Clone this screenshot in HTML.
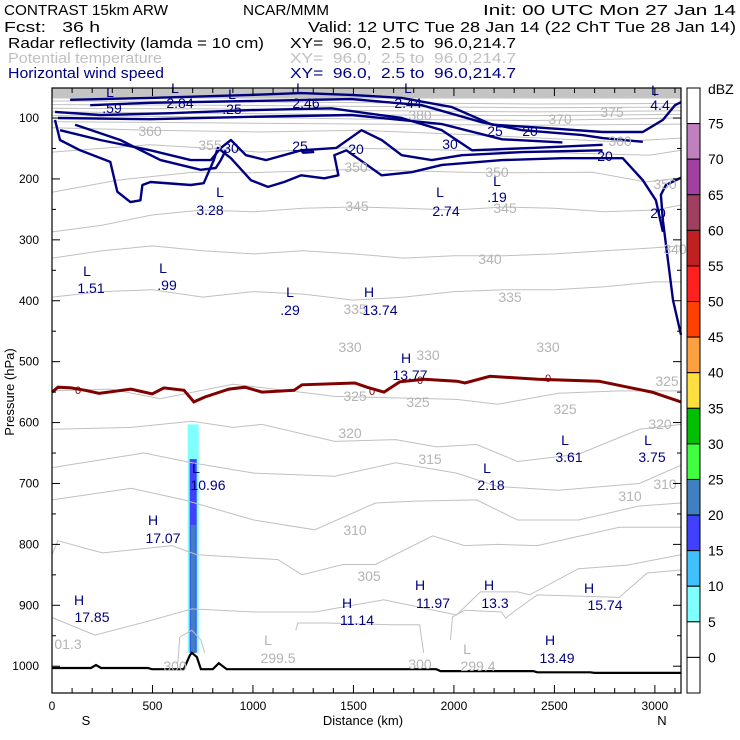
<!DOCTYPE html>
<html><head><meta charset="utf-8"><style>
html,body{margin:0;padding:0;background:#fff;}
svg{display:block;font-family:"Liberation Sans",sans-serif;}
#hdr text{white-space:pre;}
</style></head><body>
<svg id="chart" width="740" height="740" viewBox="0 0 740 740" xmlns="http://www.w3.org/2000/svg" xml:space="preserve">
<g id="hdr" font-size="15">
<text x="4" y="15" textLength="164" lengthAdjust="spacingAndGlyphs">CONTRAST 15km ARW</text>
<text x="243" y="15" textLength="86" lengthAdjust="spacingAndGlyphs">NCAR/MMM</text>
<text x="483" y="15" textLength="253" lengthAdjust="spacingAndGlyphs">Init: 00 UTC Mon 27 Jan 14</text>
<text x="4" y="32" textLength="96" lengthAdjust="spacingAndGlyphs">Fcst:   36 h</text>
<text x="308" y="32" textLength="428" lengthAdjust="spacingAndGlyphs">Valid: 12 UTC Tue 28 Jan 14 (22 ChT Tue 28 Jan 14)</text>
<text x="8" y="48" textLength="256" lengthAdjust="spacingAndGlyphs">Radar reflectivity (lamda = 10 cm)</text>
<text x="290" y="48" textLength="226" lengthAdjust="spacingAndGlyphs">XY=  96.0,  2.5 to  96.0,214.7</text>
<text x="8" y="63" fill="#c0c0c0" textLength="154" lengthAdjust="spacingAndGlyphs">Potential temperature</text>
<text x="290" y="63" fill="#c0c0c0" textLength="226" lengthAdjust="spacingAndGlyphs">XY=  96.0,  2.5 to  96.0,214.7</text>
<text x="8" y="78" fill="#000080" textLength="156" lengthAdjust="spacingAndGlyphs">Horizontal wind speed</text>
<text x="290" y="78" fill="#000080" textLength="226" lengthAdjust="spacingAndGlyphs">XY=  96.0,  2.5 to  96.0,214.7</text>
</g>
<g id="plot"></g>
<g id="labels" font-size="14"></g>
<g id="axes" font-size="12"></g>
<g id="cbar" font-size="14"></g>
<text x="0" y="0" font-size="13" transform="translate(14,392) rotate(-90)" text-anchor="middle">Pressure (hPa)</text>
<text x="363" y="725" font-size="13" text-anchor="middle">Distance (km)</text>
<text x="86" y="725" font-size="13" text-anchor="middle">S</text>
<text x="662" y="725" font-size="13" text-anchor="middle">N</text>
</svg>
<script>
// ---- data (km, hPa) ----
const kmMax = 3130, pTop = 50.7, pBot = 1044;
const yTicks = [100,200,300,400,500,600,700,800,900,1000];
const xTicks = [0,500,1000,1500,2000,2500,3000];
const dbzLevels = [75,70,65,60,55,50,45,40,35,30,25,20,15,10,5,0];
const dbzColors = ['#ffffff','#c080c0','#a040a0','#a04060','#c02020','#ff2020','#ff4000','#ffa040','#ffe040','#00c000','#40ff40','#4080c0','#4040ff','#40c0ff','#80ffff','#ffffff','#ffffff'];
const groundKm = [0,194,219,244,477,497,656,686,696,721,741,800,830,870,1913,1933,2395,2415,2679,2699,3130];
const groundP  = [1003,1003,998,1003,1003,1005,1005,982,978,985,1005,1005,995,1005,1005,1008,1008,1010,1010,1011,1011];
const freezeKm = [0,30,95,165,234,393,498,557,657,706,761,881,960,1045,1204,1244,1507,1567,1652,1731,1851,2015,2055,2179,2418,2721,2866,2985,3130];
const freezeP  = [550,542,543,547,552,545,553,543,547,566,558,545,542,550,547,538,535,542,550,533,529,532,535,524,529,532,542,550,566];
const thetaLines = [
 {name:'theta-380', km:[0,800,1600,2400,3130], p:[96,98,102,104,100]},
 {name:'theta-375', km:[0,800,1600,2400,3130], p:[90,92,95,96,94]},
 {name:'theta-370', km:[0,800,1600,2400,3130], p:[84,85,88,90,88]},
 {name:'theta-top1', km:[0,800,1600,2400,3130], p:[78,79,81,83,82]},
 {name:'theta-top2', km:[0,800,1600,2400,3130], p:[72,73,75,77,76]},
 {name:'theta-365', km:[0,800,1600,2400,3130], p:[106,108,110,112,110]},
 {name:'theta-360', km:[0,487,1034,1531,2127,2808,3130], p:[116,120,123,120,128,139,133]},
 {name:'theta-355', km:[0,487,751,1034,1446,2028,2525,2973,3130], p:[156,144,149,156,149,153,157,161,153]},
 {name:'theta-350', km:[0,323,701,985,1446,1531,2162,2311,2689,2957,3130], p:[222,202,189,190,185,185,190,190,189,205,198]},
 {name:'theta-345', km:[0,250,500,750,1000,1250,1500,1750,2000,2250,2500,2750,3000,3130], p:[287,276,259,251,254,248,246,248,251,246,248,254,251,243]},
 {name:'theta-340', km:[0,250,500,750,1000,1250,1500,1750,2000,2250,2500,2750,3000,3130], p:[330,318,310,318,323,318,323,330,326,326,323,318,313,310]},
 {name:'theta-335', km:[0,250,500,750,1000,1250,1500,1750,2000,2250,2500,2750,3000,3130], p:[394,385,382,394,385,389,399,394,385,382,382,377,369,369]},
 {name:'theta-330', km:[0,293,537,900,1283,1407,2013,2217,2520,2823,3130], p:[548,545,561,537,552,557,562,570,552,548,548]},
 {name:'theta-325', km:[0,393,696,900,1044,1407,1710,1914,2113,2317,2620,2923,3130], p:[611,608,598,608,603,631,628,640,636,664,652,611,603]},
 {name:'theta-320', km:[0,458,696,1004,1407,1710,2013,2217,2520,2923,3130], p:[674,650,666,683,688,666,683,705,711,700,670]},
 {name:'theta-315', km:[0,393,656,1004,1307,1610,1809,2113,2317,2620,2923,3130], p:[727,708,727,760,776,732,729,727,760,760,737,732]},
 {name:'theta-310', km:[0,30,194,254,597,721,1124,1244,1446,1610,1894,2053,2217,2415,2823,3130], p:[817,794,809,814,802,817,825,850,833,833,786,802,800,802,772,772]},
 {name:'theta-305', km:[0,214,458,696,1004,1307,1650,2013,2132,2317,2376,2620,2863,3130], p:[920,949,928,906,911,911,891,916,878,878,883,840,834,817]},
 {name:'theta-300a', km:[1983,1993,2053,2237,2257,2296,2415,2823,2962,3130], p:[957,919,908,911,921,911,883,887,847,842]},
 {name:'theta-300b', km:[1213,1223,1367,1690,1829,1849], p:[941,929,929,932,932,978]},
 {name:'theta-300c', km:[626,636,696,741,760], p:[995,952,941,957,978]}
];
const windLines = [
 {name:'wind-contour-1', km:[90,490,990,1240,1490,1740,1990,2190,2440,2740,2940,3040,3100,3130], p:[70,67,62,59,62,67,82,111,116,123,123,103,79,74]},
 {name:'wind-contour-2', km:[190,490,990,1490,1840,2140,2340,2640,2740,2940], p:[79,75,72,69,79,107,120,128,133,139]},
 {name:'wind-contour-2b', km:[30,490,990,1490,1940,2240,2540], p:[100,102,98,95,110,135,140]},
 {name:'wind-contour-3', km:[15,240,590,990,1390,1740,1940,2090,2390,2740], p:[90,95,92,87,84,100,120,153,149,144]},
 {name:'wind-contour-4', km:[40,240,490,690,790,840,890,965,1065,1240,1415,1540,1640,1740,1890,2040,2340,2740], p:[120,136,153,169,169,149,136,161,169,153,149,120,136,161,169,161,156,153]},
 {name:'wind-contour-5', km:[15,40,140,290,325,390,440,450,490,690,755,805,825,890,990,1075,1155,1240,1355,1425,1405,1465,1640,1790,1940,2240,2540,2840,2940,3005,3040], p:[103,136,153,172,221,238,235,210,205,210,207,169,149,166,202,213,205,194,199,194,161,153,194,189,177,169,166,166,202,235,287]},
 {name:'wind-contour-6', km:[115,340,540,740,815,840,865], p:[111,136,169,185,182,169,153]},
 {name:'wind-contour-7', km:[3130,3090,3065,3040,3030,3055,3130], p:[456,399,333,268,226,210,198]},
 {name:'wind-contour-8', km:[1240,1290,1300,1250,1240], p:[153,152,156,157,153]}
];
const radarKmL = [675,685,690];
const radarKmR = [730,720,715];
const radarPTop = [603,660,768];
const radarColor = ['#80ffff','#4040ff','#4080c0'];

// ---- axis functions ----
const X0=52, X1=681, Y0=88, Y1=693;
function x(km){return X0+(km/kmMax)*(X1-X0);}
function y(p){return Y0+(p-pTop)/(pBot-pTop)*(Y1-Y0);}
const NS='http://www.w3.org/2000/svg';
function mk(tag,attrs,parent){const e=document.createElementNS(NS,tag);for(const k in attrs)e.setAttribute(k,attrs[k]);parent.appendChild(e);return e;}
function pts(km,p){return km.map((k,i)=>x(k).toFixed(1)+','+y(p[i]).toFixed(1)).join(' ');}
const plot=document.getElementById('plot');

let band=mk('rect',{x:X0,y:y(pTop),width:X1-X0,height:y(68)-y(pTop),fill:'#c4c4c4'},plot);



radarKmL.forEach((k,i)=>{
 const r=mk('rect',{x:x(k),y:y(radarPTop[i]),width:x(radarKmR[i])-x(k),height:y(groundP[8])-y(radarPTop[i]),fill:radarColor[i]},plot);
 
 
});
thetaLines.forEach(l=>{
 const e=mk('polyline',{points:pts(l.km,l.p),fill:'none',stroke:'#c0c0c0','stroke-width':1},plot);
 
 
});
windLines.forEach(l=>{
 const e=mk('polyline',{points:pts(l.km,l.p),fill:'none',stroke:'#000080','stroke-width':2.4,'stroke-linejoin':'round'},plot);
 
 
});
let fz=mk('polyline',{points:pts(freezeKm,freezeP),fill:'none',stroke:'#800000','stroke-width':3},plot);


let gr=mk('polyline',{points:pts(groundKm,groundP),fill:'none',stroke:'#000','stroke-width':2.2},plot);



const lab=document.getElementById('labels');
const textLabels=[
 ['L',110,97,'n'],['.59',112,113,'n'],['L',175,93,'n'],['2.84',180,108,'n'],['L',232,99,'n'],['.25',232,114,'n'],
 ['L',300,93,'n'],['2.46',306,108,'n'],['L',408,93,'n'],['2.44',408,108,'n'],['L',655,95,'n'],['4.4',660,110,'n'],
 ['30',231,153,'n'],['25',300,151,'n'],['20',356,154,'n'],['25',495,136,'n'],['20',530,136,'n'],['30',450,149,'n'],['20',605,161,'n'],['20',658,218,'n'],
 ['L',220,197,'n'],['3.28',210,215,'n'],['L',440,197,'n'],['2.74',446,216,'n'],['L',497,186,'n'],['.19',497,202,'n'],
 ['L',87,276,'n'],['1.51',91,293,'n'],['L',163,273,'n'],['.99',167,290,'n'],['L',290,297,'n'],['.29',290,315,'n'],
 ['H',369,297,'n'],['13.74',380,315,'n'],['H',406,363,'n'],['13.77',410,380,'n'],
 ['L',196,473,'n'],['10.96',208,490,'n'],['L',487,473,'n'],['2.18',491,490,'n'],['L',565,445,'n'],['3.61',569,462,'n'],['L',648,445,'n'],['3.75',652,462,'n'],
 ['H',153,525,'n'],['17.07',163,543,'n'],['H',79,605,'n'],['17.85',92,622,'n'],['H',347,608,'n'],['11.14',357,625,'n'],
 ['H',420,590,'n'],['11.97',433,608,'n'],['H',489,590,'n'],['13.3',495,608,'n'],['H',589,593,'n'],['15.74',605,610,'n'],['H',550,645,'n'],['13.49',557,663,'n'],
 ['L',268,645,'g'],['299.5',278,663,'g'],['L',467,654,'g'],['299.4',478,671,'g'],['300',420,669,'g'],['300',175,671,'g'],['01.3',68,649,'g'],
 ['305',369,581,'g'],['310',355,535,'g'],['310',630,501,'g'],['310',665,489,'g'],['315',430,464,'g'],['320',350,438,'g'],['320',660,429,'g'],
 ['325',355,401,'g'],['325',418,407,'g'],['325',565,414,'g'],['325',667,386,'g'],['330',350,352,'g'],['330',428,360,'g'],['330',548,352,'g'],
 ['335',510,302,'g'],['335',355,314,'g'],['340',490,264,'g'],['340',675,254,'g'],['345',357,211,'g'],['345',505,213,'g'],
 ['350',356,172,'g'],['350',497,177,'g'],['350',665,189,'g'],['355',210,150,'g'],['360',150,136,'g'],['380',420,120,'g'],['370',560,124,'g'],['375',612,117,'g'],['360',620,146,'g'],
 ['0',78,394,'m'],['0',372,395,'m'],['0',420,384,'m'],['0',548,382,'m']
];
textLabels.forEach(t=>{
 const col=t[3]==='n'?'#000080':(t[3]==='g'?'#b4b4b4':'#800000');
 const e=mk('text',{x:t[1],y:t[2],fill:col,'text-anchor':'middle','font-size':t[3]==='m'?11:14},lab);
 e.textContent=t[0];
 
 
});

const ax=document.getElementById('axes');
let fr=mk('rect',{x:X0,y:Y0,width:X1-X0,height:Y1-Y0,fill:'none',stroke:'#000','stroke-width':1.2},ax);


for(let p=100;p<=1000;p+=50){
 const L=(p%100===0)?8:4;
 const t1=mk('line',{x1:X0,x2:X0+L,y1:y(p),y2:y(p),stroke:'#000'},ax);
 
 
 const t2=mk('line',{x1:X1,x2:X1-L,y1:y(p),y2:y(p),stroke:'#000'},ax);
 
 
}
yTicks.forEach(p=>{
 const e=mk('text',{x:39,y:y(p)+4,'text-anchor':'end'},ax);
 e.textContent=p;
 
 
});
for(let k=0;k<=3100;k+=100){
 const L=(k%500===0)?8:5;
 const t1=mk('line',{x1:x(k),x2:x(k),y1:Y1,y2:Y1-L,stroke:'#000'},ax);
 
 
 const t2=mk('line',{x1:x(k),x2:x(k),y1:Y0,y2:Y0+L,stroke:'#000'},ax);
 
 
}
xTicks.forEach(k=>{
 const e=mk('text',{x:x(k),y:710,'text-anchor':'middle'},ax);
 e.textContent=k;
 
 
});

const cb=document.getElementById('cbar');
const cbX=687,cbW=13,segH=(Y1-Y0)/dbzColors.length;
dbzColors.forEach((c,i)=>{
 const r=mk('rect',{x:cbX,y:Y0+i*segH,width:cbW,height:segH,fill:c,stroke:'#000','stroke-width':1},cb);
 
 
});
dbzLevels.forEach((v,i)=>{
 const e=mk('text',{x:708,y:Y0+(i+1)*segH+5},cb);
 e.textContent=v;
 
 
});
let du=mk('text',{x:708,y:94},cb);
du.textContent='dBZ';


</script>
</body></html>
